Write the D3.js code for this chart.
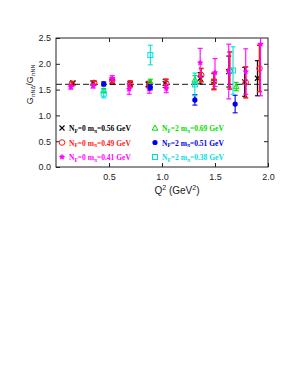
<!DOCTYPE html>
<html>
<head>
<meta charset="utf-8">
<script src="https://cdn.jsdelivr.net/npm/d3@7"></script>
<style>
  body { margin: 0; background: #fff; }
  svg { display: block; }
</style>
</head>
<body>
<div id="chart"></div>
<script>
/* Data */
const xTicks = [0.5, 1.0, 1.5, 2.0]
const yTicks = [0.0, 0.5, 1.0, 1.5, 2.0, 2.5]
const refValue = 1.6

// Nf=0, m_pi=0.56 GeV
const q2A = [0.16, 0.35, 0.53, 0.70, 0.87, 1.03, 1.36, 1.49, 1.63, 1.78, 1.90]
const valA = [1.63, 1.63, 1.65, 1.61, 1.60, 1.62, 1.72, 1.66, 1.85, 1.65, 1.72]
const errA = [0.03, 0.03, 0.04, 0.05, 0.05, 0.08, 0.11, 0.15, 0.30, 0.28, 0.34]
// Nf=0, m_pi=0.49 GeV
const q2B = [0.15, 0.36, 0.53, 0.70, 0.88, 1.04, 1.37, 1.49, 1.64, 1.79, 1.92]
const valB = [1.61, 1.63, 1.68, 1.61, 1.60, 1.62, 1.78, 1.66, 1.87, 1.64, 1.91]
const errB = [0.04, 0.04, 0.05, 0.06, 0.06, 0.08, 0.13, 0.16, 0.36, 0.30, 0.45]
// Nf=0, m_pi=0.41 GeV
const q2C = [0.14, 0.35, 0.53, 0.69, 0.88, 1.04, 1.36, 1.50, 1.63, 1.79, 1.93]
const valC = [1.55, 1.57, 1.72, 1.51, 1.51, 1.52, 2.02, 1.83, 1.85, 1.85, 2.38]
const errC = [0.04, 0.04, 0.05, 0.10, 0.08, 0.08, 0.28, 0.27, 0.53, 0.44, 1.00]
// Nf=2, m_pi=0.69 GeV
const q2D = [0.45, 0.89, 1.31, 1.70]
const valD = [1.48, 1.65, 1.69, 1.56]
const errD = [0.04, 0.05, 0.08, 0.08]
// Nf=2, m_pi=0.51 GeV
const q2E = [0.45, 0.89, 1.31, 1.69]
const valE = [1.61, 1.545, 1.30, 1.22]
const errE = [0.04, 0.05, 0.10, 0.17]
// Nf=2, m_pi=0.38 GeV
const q2F = [0.45, 0.89, 1.31, 1.67]
const valF = [1.42, 2.17, 1.60, 1.87]
const errF = [0.08, 0.19, 0.22, 0.46]

const series = [
  { nf: "0", mass: "0.56", color: "#000000", symbol: "cross", lw: 1.1, q2: q2A, val: valA, err: errA },
  { nf: "0", mass: "0.49", color: "#ff1a1a", symbol: "circleOpen", lw: 1.6, q2: q2B, val: valB, err: errB },
  { nf: "0", mass: "0.41", color: "#ff00ff", symbol: "star", lw: 1.1, q2: q2C, val: valC, err: errC },
  { nf: "2", mass: "0.69", color: "#00dd00", symbol: "triangleOpen", lw: 1.1, q2: q2D, val: valD, err: errD },
  { nf: "2", mass: "0.51", color: "#0000ee", symbol: "circleFilled", lw: 1.1, q2: q2E, val: valE, err: errE },
  { nf: "2", mass: "0.38", color: "#00e0e0", symbol: "squareOpen", lw: 1.1, q2: q2F, val: valF, err: errF }
]

/* Dimensions */
const dimensions = {
  width: 300, height: 388,
  margin: { top: 38, right: 32, bottom: 221, left: 56 }
}
dimensions.boundedWidth = dimensions.width - dimensions.margin.left - dimensions.margin.right
dimensions.boundedHeight = dimensions.height - dimensions.margin.top - dimensions.margin.bottom

const svg = d3.select("#chart").append("svg")
    .attr("width", dimensions.width)
    .attr("height", dimensions.height)
    .style("font-family", "'Liberation Sans', Arial, sans-serif")

const bounds = svg.append("g")
    .attr("transform", `translate(${dimensions.margin.left},${dimensions.margin.top})`)

/* Scales */
const xScale = d3.scaleLinear().domain([0, 2]).range([0, dimensions.boundedWidth])
const yScale = d3.scaleLinear().domain([0, 2.5]).range([dimensions.boundedHeight, 0])

bounds.append("defs").append("clipPath").attr("id", "clip")
  .append("rect").attr("width", dimensions.boundedWidth).attr("height", dimensions.boundedHeight)

/* Axes (ticks inward) */
const fmt = d3.format(".1f")
const yAxis = bounds.append("g")
    .call(d3.axisLeft(yScale).tickValues(yTicks).tickFormat(fmt).tickSizeInner(-4).tickSizeOuter(0).tickPadding(5))
const yAxisRight = bounds.append("g")
    .attr("transform", `translate(${dimensions.boundedWidth},0)`)
    .call(d3.axisRight(yScale).tickValues(yTicks.slice(1, -1)).tickFormat("").tickSizeInner(-4).tickSizeOuter(0))
const xAxis = bounds.append("g")
    .attr("transform", `translate(0,${dimensions.boundedHeight})`)
    .call(d3.axisBottom(xScale).tickValues(xTicks).tickFormat(fmt).tickSizeInner(-4).tickSizeOuter(0).tickPadding(7))
const xAxisTop = bounds.append("g")
    .call(d3.axisTop(xScale).tickValues(xTicks.slice(0, -1)).tickFormat("").tickSizeInner(-4).tickSizeOuter(0))

svg.selectAll(".domain").remove()
svg.selectAll(".tick line").attr("stroke", "#222")
svg.selectAll(".tick text").attr("font-size", 9).attr("fill", "#222")

bounds.append("rect")
    .attr("width", dimensions.boundedWidth)
    .attr("height", dimensions.boundedHeight)
    .attr("fill", "none")
    .attr("stroke", "#222")
    .attr("stroke-width", 1)

/* Reference line */
bounds.append("line")
    .attr("x1", 0).attr("x2", dimensions.boundedWidth)
    .attr("y1", yScale(refValue)).attr("y2", yScale(refValue))
    .attr("stroke", "#444")
    .attr("stroke-width", 1.2)
    .attr("stroke-dasharray", "6 3")

/* Markers */
function drawSymbol(g, type, color) {
  if (type === "cross") {
    g.append("path").attr("d", "M-2.5,-2.5L2.5,2.5M-2.5,2.5L2.5,-2.5")
      .attr("stroke", color).attr("stroke-width", 1.1).attr("fill", "none")
  } else if (type === "circleOpen") {
    g.append("circle").attr("r", 2.8).attr("fill", "none").attr("stroke", color).attr("stroke-width", 1)
  } else if (type === "circleFilled") {
    g.append("circle").attr("r", 2.6).attr("fill", color)
  } else if (type === "star") {
    g.append("path").attr("d", d3.symbol(d3.symbolStar, 14)()).attr("fill", color)
    g.append("path").attr("d", "M-2.2,0L2.2,0M0,-2.2L0,2.2M-1.6,-1.6L1.6,1.6M-1.6,1.6L1.6,-1.6")
      .attr("stroke", color).attr("stroke-width", 1)
  } else if (type === "triangleOpen") {
    g.append("path").attr("d", "M0,-3L2.8,2.2L-2.8,2.2Z")
      .attr("fill", "none").attr("stroke", color).attr("stroke-width", 1)
  } else if (type === "squareOpen") {
    g.append("rect").attr("x", -2.5).attr("y", -2.5).attr("width", 5).attr("height", 5)
      .attr("fill", "none").attr("stroke", color).attr("stroke-width", 1)
  }
}

/* Data */
const dataLayer = bounds.append("g").attr("clip-path", "url(#clip)")
series.forEach(s => {
  const pts = s.q2.map((q, i) => ({ q, v: s.val[i], e: s.err[i] }))
  const grp = dataLayer.append("g")
  const bars = grp.selectAll("g.err").data(pts).enter().append("g")
      .attr("stroke", s.color).attr("stroke-width", s.lw).attr("fill", "none")
  bars.append("line")
      .attr("x1", d => xScale(d.q)).attr("x2", d => xScale(d.q))
      .attr("y1", d => yScale(d.v - d.e)).attr("y2", d => yScale(d.v + d.e))
  bars.append("line")
      .attr("x1", d => xScale(d.q) - 2.5).attr("x2", d => xScale(d.q) + 2.5)
      .attr("y1", d => yScale(d.v - d.e)).attr("y2", d => yScale(d.v - d.e))
  bars.append("line")
      .attr("x1", d => xScale(d.q) - 2.5).attr("x2", d => xScale(d.q) + 2.5)
      .attr("y1", d => yScale(d.v + d.e)).attr("y2", d => yScale(d.v + d.e))
  grp.selectAll("g.pt").data(pts).enter().append("g")
      .attr("transform", d => `translate(${xScale(d.q)},${yScale(d.v)})`)
      .each(function() { drawSymbol(d3.select(this), s.symbol, s.color) })
})

/* Legend */
const legend = bounds.append("g")
series.forEach((s, i) => {
  const col = Math.floor(i / 3)
  const row = i % 3
  const lx = col === 0 ? 6 : 99
  const ly = 90 + row * 14.5
  const item = legend.append("g").attr("transform", `translate(${lx},${ly})`)
  drawSymbol(item.append("g"), s.symbol, s.color)
  const t = item.append("text")
      .attr("x", 7).attr("y", 3)
      .attr("fill", s.color)
      .attr("font-size", 7.5)
      .attr("font-weight", "bold")
      .attr("font-family", "'Liberation Serif', 'Times New Roman', serif")
  t.append("tspan").text("N")
  t.append("tspan").attr("font-size", 5.5).attr("dy", 1.8).text("F")
  t.append("tspan").attr("dy", -1.8).text(`=${s.nf}  m`)
  t.append("tspan").attr("font-size", 5.5).attr("dy", 1.8).text("π")
  t.append("tspan").attr("dy", -1.8).text(`=${s.mass}  GeV`)
})

/* Axis titles */
const xLabel = svg.append("text")
    .attr("x", 177)
    .attr("y", 194)
    .attr("text-anchor", "middle")
    .attr("font-size", 10)
    .attr("fill", "#222")
xLabel.append("tspan").text("Q")
xLabel.append("tspan").attr("font-size", 7).attr("dy", -4).text("2")
xLabel.append("tspan").attr("dy", 4).text("  (GeV")
xLabel.append("tspan").attr("font-size", 7).attr("dy", -4).text("2")
xLabel.append("tspan").attr("dy", 4).text(")")

const yLabel = svg.append("text")
    .attr("transform", `translate(33,${dimensions.margin.top + yScale(1.6)}) rotate(-90)`)
    .attr("text-anchor", "middle")
    .attr("font-size", 9)
    .attr("fill", "#222")
yLabel.append("tspan").text("G")
yLabel.append("tspan").attr("font-size", 5.5).attr("dy", 2).text("πNΔ")
yLabel.append("tspan").attr("dy", -2).text("/G")
yLabel.append("tspan").attr("font-size", 5.5).attr("dy", 2).text("πNN")
</script>
</body>
</html>
